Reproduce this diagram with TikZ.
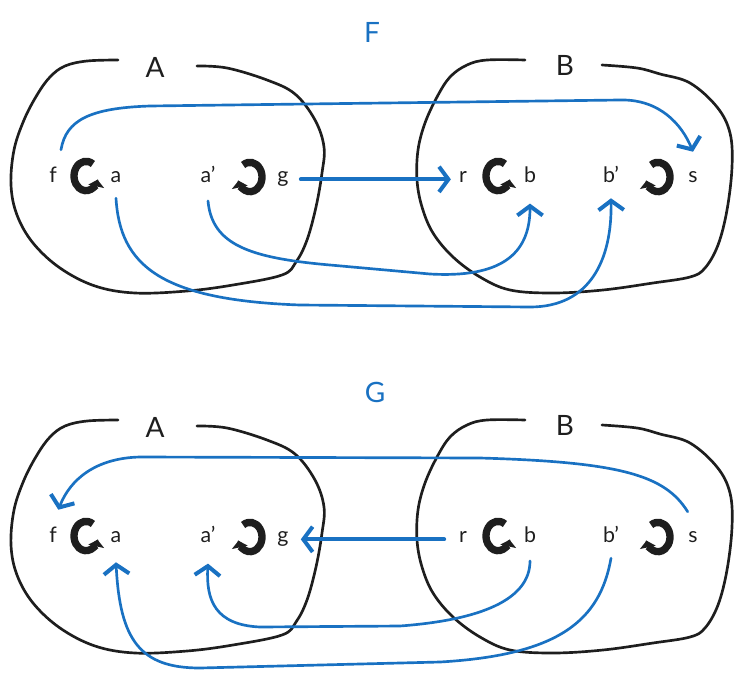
\documentclass[tikz,border=0pt]{standalone}
\usepackage{fontspec}
\setmainfont{Lato}
\usetikzlibrary{arrows.meta}

\definecolor{inkblack}{HTML}{1E1E1E}
\definecolor{inkblue}{HTML}{1971C2}

\tikzset{
  setline/.style={inkblack, line width=2pt, line cap=round, line join=round},
  setname/.style={text=inkblack, font=\fontsize{21}{24}\selectfont, inner sep=1pt},
  elem/.style={text=inkblack, font=\fontsize{16}{18}\selectfont, inner sep=1pt,
    text height=11pt, text depth=3pt, anchor=base},
  mapname/.style={text=inkblue, font=\fontsize{21}{24}\selectfont, inner sep=1pt},
  endo/.style={inkblack, line width=5.5pt, -{Triangle[length=5pt,width=12pt]}},
  maparrow/.style={inkblue, line width=2pt, line cap=round,
    -{Straight Barb[length=7pt,width=19pt,line width=3pt]}}
}

\begin{document}
\begin{tikzpicture}[x=0.75pt, y=-0.75pt]
  \useasboundingbox (0,0) rectangle (741,681);

  % the sets A and B, once for F and once for G
  \foreach \dy/\p in {0/1, 360/2} {
    \begin{scope}[shift={(0,\dy)}]
      \draw[setline] plot[smooth, tension=0.6] coordinates {(118,60) (87,61) (65,66) (50,77) (37,95) (24,120) (14,150) (11,185) (17,215) (33,243) (60,268) (95,286) (135,293) (187,291) (233,285) (282,275) (296,262) (307,240) (316,207) (322,173) (324,147) (315,120) (295,94) (267,80) (227,68) (197,66)};
      \draw[setline] plot[smooth, tension=0.6] coordinates {(525,60) (487,60) (467,65) (450,77) (437,97) (425,123) (418,150) (417,180) (422,207) (433,233) (453,257) (480,277) (510,290) (553,293) (603,290) (653,283) (690,277) (705,268) (718,245) (727,210) (732,167) (730,133) (717,107) (690,83) (660,74) (637,68) (602,65)};
      \node[setname] (A\p) at (155,67) {A};
      \node[setname] (B\p) at (565,65) {B};
      \node[elem] (f\p) at (53,182) {f};
      \node[elem] (a\p) at (116,182) {a};
      \node[elem] (ap\p) at (208,182) {a'};
      \node[elem] (g\p) at (283,182) {g};
      \node[elem] (r\p) at (463,182) {r};
      \node[elem] (b\p) at (530,182) {b};
      \node[elem] (bp\p) at (611,182) {b'};
      \node[elem] (s\p) at (693,182) {s};
      \coordinate (lf\p) at (86,176);
      \coordinate (lg\p) at (250,177);
      \coordinate (lr\p) at (498,176);
      \coordinate (ls\p) at (658,177);
      \draw[endo] ([shift={(55:9pt and 11pt)}]lf\p) arc[start angle=55, end angle=345, x radius=9pt, y radius=11pt];
      \draw[endo] ([shift={(55:9pt and 11pt)}]lr\p) arc[start angle=55, end angle=345, x radius=9pt, y radius=11pt];
      \draw[endo] ([shift={(125:9pt and 11pt)}]lg\p) arc[start angle=125, end angle=-165, x radius=9pt, y radius=11pt];
      \draw[endo] ([shift={(125:9pt and 11pt)}]ls\p) arc[start angle=125, end angle=-165, x radius=9pt, y radius=11pt];
    \end{scope}
  }

  % F
  \node[mapname] (F) at (372,32) {F};
  \draw[maparrow] ([xshift=6pt,yshift=12pt]f1.north)
    .. controls (66,120) and (90,108) .. (150,106) -- (620,100)
    .. controls (660,99) and (682,125) .. ([yshift=10.5pt]s1.north);
  \draw[maparrow, line width=3pt] ([xshift=8pt,yshift=-2pt]g1.east) -- ([xshift=-5pt,yshift=-2pt]r1.west);
  \draw[maparrow] ([yshift=-8pt]a1.south)
    .. controls (120,265) and (160,300) .. (300,305) -- (530,307)
    .. controls (590,307) and (612,260) .. ([yshift=-8pt]bp1.south);
  \draw[maparrow] ([yshift=-10pt]ap1.south)
    .. controls (212,245) and (250,258) .. (330,265) -- (430,274)
    .. controls (500,278) and (530,255) .. ([yshift=-12pt]b1.south);

  % G
  \node[mapname] (G) at (375,392) {G};
  \draw[maparrow] ([xshift=-4pt,yshift=10.5pt]s2.north)
    .. controls (665,475) and (620,462) .. (480,458) -- (140,457)
    .. controls (95,458) and (70,480) .. ([xshift=4pt,yshift=12pt]f2.north);
  \draw[maparrow, line width=3pt] ([xshift=-10pt,yshift=-2pt]r2.west) -- ([xshift=8pt,yshift=-2pt]g2.east);
  \draw[maparrow] ([yshift=-10pt]b2.south)
    .. controls (530,600) and (480,620) .. (400,626) -- (260,627)
    .. controls (215,625) and (206,600) .. ([yshift=-12pt]ap2.south);
  \draw[maparrow] ([yshift=-8pt]bp2.south)
    .. controls (600,620) and (560,655) .. (440,662) -- (200,668)
    .. controls (140,668) and (120,640) .. ([yshift=-11pt]a2.south);
\end{tikzpicture}
\end{document}
